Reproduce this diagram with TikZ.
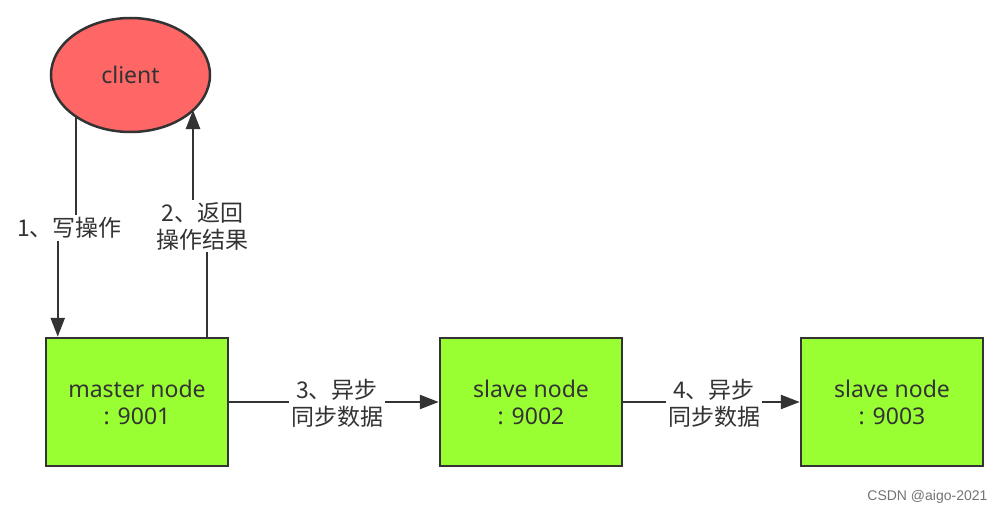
\documentclass[tikz,border=0pt]{standalone}
\usepackage{fontspec}
\setmainfont{Noto Sans}
\newfontfamily\cjk{Noto Sans CJK SC}
\newfontfamily\wm{Liberation Sans}
\usetikzlibrary{arrows.meta,shapes.geometric}
\definecolor{edge}{HTML}{333333}
\definecolor{txt}{HTML}{333333}
\definecolor{redfill}{HTML}{FF6666}
\definecolor{greenfill}{HTML}{99FF33}
\tikzset{
  boxnode/.style={draw=edge,line width=2.5pt,fill=greenfill,minimum width=182pt,minimum height=128pt,inner sep=0pt,align=center,text=txt,font=\fontsize{23}{27}\selectfont},
  clientnode/.style={draw=edge,line width=2.5pt,fill=redfill,ellipse,minimum width=159pt,minimum height=114pt,inner sep=0pt,text=txt,font=\fontsize{23}{27}\selectfont},
  arr/.style={draw=edge,line width=2.5pt,-{Triangle[length=19pt,width=14pt]}},
  lbl/.style={fill=white,inner sep=2pt,align=center,text=txt,font=\cjk\fontsize{23}{27}\selectfont},
}
\begin{document}
\begin{tikzpicture}[x=1pt,y=-1pt]
\useasboundingbox (0,0) rectangle (1007,514);
\node[clientnode] (client) at (130.5,75) {client};
\node[boxnode] (master) at (137,402) {master node\\: 9001};
\node[boxnode] (slave1) at (531,402) {slave node\\: 9002};
\node[boxnode] (slave2) at (892,402) {slave node\\: 9003};
\coordinate (c1) at (76,116.5);
\coordinate (c2) at (193,110);
\coordinate (m1) at ([xshift=13pt]master.north west);
\coordinate (m2) at ([xshift=162pt]master.north west);
\coordinate (j1) at (0,228);
\coordinate (j2) at (0,226);
\draw[arr] (c1) -- (c1 |- j1) -- (m1 |- j1) -- (m1);
\draw[arr] (m2) -- (m2 |- j2) -- (c2 |- j2) -- (c2);
\draw[arr] (master.east) -- (slave1.west);
\draw[arr] (slave1.east) -- (slave2.west);
\node[lbl] (l1) at (69.5,228) {1、写操作};
\node[lbl] (l2) at (202.5,226) {2、返回\\操作结果};
\node[lbl] (l3) at (337,403) {3、异步\\同步数据};
\node[lbl] (l4) at (714,403) {4、异步\\同步数据};
\node[text=black!55,font=\wm\fontsize{14}{16}\selectfont,anchor=east] (wm) at (991,497) {CSDN @aigo-2021};
\end{tikzpicture}
\end{document}
